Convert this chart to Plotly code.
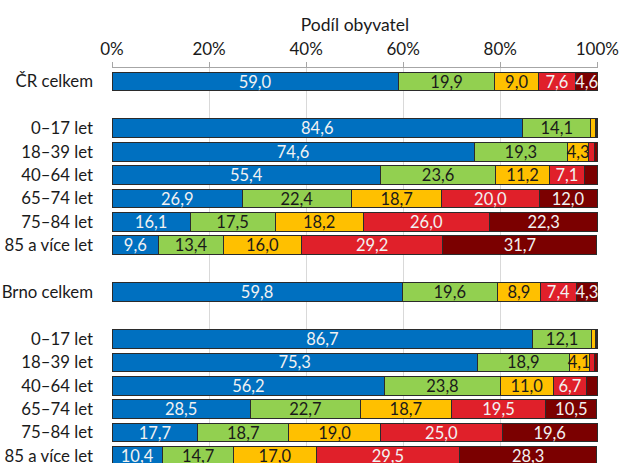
import plotly.graph_objects as go

categories = ["ČR celkem", "0–17 let", "18–39 let", "40–64 let", "65–74 let", "75–84 let", "85 a více let",
              "Brno celkem", "0–17 let", "18–39 let", "40–64 let", "65–74 let", "75–84 let", "85 a více let"]
positions = [0, 2, 3, 4, 5, 6, 7, 9, 11, 12, 13, 14, 15, 16]

x_ticks = [0, 20, 40, 60, 80, 100]
x_tick_labels = ["0%", "20%", "40%", "60%", "80%", "100%"]

series_names = ["Skupina 1", "Skupina 2", "Skupina 3", "Skupina 4", "Skupina 5"]
s1 = [59.0, 84.6, 74.6, 55.4, 26.9, 16.1, 9.6, 59.8, 86.7, 75.3, 56.2, 28.5, 17.7, 10.4]
s2 = [19.9, 14.1, 19.3, 23.6, 22.4, 17.5, 13.4, 19.6, 12.1, 18.9, 23.8, 22.7, 18.7, 14.7]
s3 = [9.0, 0.9, 4.3, 11.2, 18.7, 18.2, 16.0, 8.9, 0.8, 4.1, 11.0, 18.7, 19.0, 17.0]
s4 = [7.6, 0.2, 1.3, 7.1, 20.0, 26.0, 29.2, 7.4, 0.2, 1.2, 6.7, 19.5, 25.0, 29.5]
s5 = [4.6, 0.2, 0.5, 2.7, 12.0, 22.3, 31.7, 4.3, 0.2, 0.5, 2.3, 10.5, 19.6, 28.3]
series = [s1, s2, s3, s4, s5]

colors = ["#0070C0", "#92D050", "#FFC000", "#E0202A", "#7B0000"]
text_colors = ["#f2f2f2", "#1a1a1a", "#1a1a1a", "#f2f2f2", "#f2f2f2"]

fig = go.Figure()
for name, vals, col, tcol in zip(series_names, series, colors, text_colors):
    txt = [f"{v:.1f}".replace(".", ",") if v >= 3 else "" for v in vals]
    fig.add_trace(go.Bar(
        y=positions, x=vals, orientation="h", name=name,
        marker=dict(color=col, line=dict(color="#2b2b2b", width=1)),
        width=0.8,
        text=txt, textposition="inside", insidetextanchor="middle", textangle=0,
        textfont=dict(color=tcol, size=16.5, family="Lato"),
        hoverinfo="x+name", showlegend=False, cliponaxis=False,
    ))

fig.update_layout(
    barmode="stack",
    width=619, height=463,
    margin=dict(l=112, r=21, t=68, b=0),
    paper_bgcolor="white", plot_bgcolor="white",
    font=dict(family="Lato", size=15, color="#1a1a1a"),
    uniformtext=dict(minsize=16.5, mode="show"),
    xaxis=dict(
        side="top", range=[0, 100.15], tickvals=x_ticks, ticktext=x_tick_labels,
        ticks="outside", ticklen=5, tickcolor="#a6a6a6",
        showline=True, linecolor="#a6a6a6", linewidth=1,
        showgrid=True, gridcolor="#d9d9d9", gridwidth=1, zeroline=False,
        tickfont=dict(size=17), automargin=False, ticklabeloverflow="allow",
        title=dict(text="Podíl obyvatel", font=dict(size=17.5), standoff=2),
    ),
    yaxis=dict(
        range=[16.30, -0.577], tickvals=positions, ticktext=categories,
        showgrid=False, zeroline=False, showline=False, ticks="",
        tickfont=dict(size=16.8), ticklabelstandoff=18, automargin=False,
        ticklabeloverflow="allow",
    ),
)

fig.write_html(
    "out.html",
    config={"displayModeBar": False},
    post_script="document.body.style.margin='0';document.body.style.overflow='hidden';",
)
